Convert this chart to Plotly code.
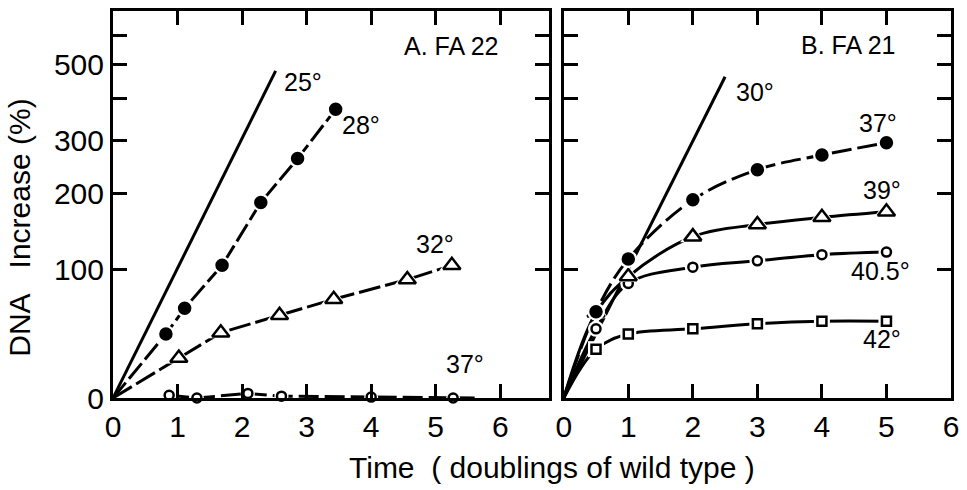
import numpy as np
import plotly.graph_objects as go
from plotly.subplots import make_subplots

# ---------------- data ----------------
# Panel A (FA 22): time in doublings of wild type, DNA increase in %
a25_x = [0, 2.52]
a25_y = [0, 480]
a28_x = [0, 0.82, 1.11, 1.69, 2.29, 2.86, 3.45]
a28_y = [0, 41, 62, 104, 186, 262, 372]
a32_x = [0, 1.02, 1.67, 2.58, 3.42, 4.56, 5.25]
a32_y = [0, 24, 42, 56, 70, 89, 104]
a37_x = [0.87, 1.30, 2.09, 2.61, 4.00, 5.27]
a37_y = [1.5, 0, 2.5, 1, 0.5, 0]

# Panel B (FA 21)
b30_x = [0, 2.5]
b30_y = [0, 462]
b_x = [0, 0.5, 1, 2, 3, 4, 5]
b37_y = [0, 59, 111, 190, 241, 269, 294]
b39_y = [0, 58, 92, 138, 154, 164, 172]
b405_y = [0, 45, 85, 102, 109, 116, 119]
b42_y = [0, 30, 41, 45, 49, 51, 51]

y_tick_vals = [0, 100, 200, 300, 400, 500, 600]
y_tick_text = ["0", "100", "200", "300", "", "500", ""]
x_tick_vals = [0, 1, 2, 3, 4, 5, 6]
x_tick_text = ["0", "1", "2", "3", "4", "5", "6"]


def T(v):
    """DNA increase (%) -> log2 of relative DNA amount (the chart's y scale)."""
    return np.log2(1 + np.asarray(v, dtype=float) / 100.0)


FONT = "Liberation Sans, Arial, sans-serif"
BLACK = "black"

fig = make_subplots(rows=1, cols=2, horizontal_spacing=0.018,
                    column_widths=[6.75, 6.0])


def add_line(x, y, col, dash="solid", shape="linear"):
    fig.add_trace(go.Scatter(x=x, y=T(y), mode="lines",
                             line=dict(color=BLACK, width=3, dash=dash, shape=shape),
                             hoverinfo="skip", showlegend=False, cliponaxis=False),
                  row=1, col=col)


def add_markers(x, y, col, symbol, size, filled, halo=7):
    # white halo to break the line around each marker
    fig.add_trace(go.Scatter(x=x, y=T(y), mode="markers",
                             marker=dict(symbol=symbol, size=size + halo, color="white",
                                         line=dict(width=0)),
                             hoverinfo="skip", showlegend=False, cliponaxis=False),
                  row=1, col=col)
    fig.add_trace(go.Scatter(x=x, y=T(y), mode="markers",
                             marker=dict(symbol=symbol, size=size,
                                         color=BLACK if filled else "white",
                                         line=dict(color=BLACK, width=2.5)),
                             showlegend=False, cliponaxis=False),
                  row=1, col=col)


# Panel A
add_line(a25_x, a25_y, 1)
add_line(a28_x, a28_y, 1, dash="20px,5px")
add_markers(a28_x[1:], a28_y[1:], 1, "circle", 11, True)
add_line(a32_x, a32_y, 1, dash="22px,5px")
add_markers(a32_x[1:], a32_y[1:], 1, "triangle-up", 15, False)
add_line([a37_x[0]] + a37_x + [5.65], [a37_y[0]] + a37_y + [0], 1, dash="20px,6px")
add_markers(a37_x, a37_y, 1, "circle", 9, False, halo=5)

# Panel B
add_line(b30_x, b30_y, 2)
add_line(b_x, b37_y, 2, dash="20px,6px", shape="spline")
add_line(b_x, b39_y, 2, shape="spline")
add_line(b_x, b405_y, 2, shape="spline")
add_line(b_x, b42_y, 2, shape="spline")
add_markers(b_x[1:], b42_y[1:], 2, "square", 9, False)
add_markers(b_x[1:], b405_y[1:], 2, "circle", 9, False)
add_markers(b_x[1:], b39_y[1:], 2, "triangle-up", 15, False)
add_markers(b_x[1:], b37_y[1:], 2, "circle", 11, True)

axis_common = dict(showline=True, linewidth=3, linecolor=BLACK, mirror="ticks",
                   ticks="inside", ticklen=14, tickwidth=2.5, tickcolor=BLACK,
                   showgrid=False, zeroline=False,
                   tickfont=dict(family=FONT, size=30, color=BLACK))

fig.update_xaxes(range=[0, 6.75], tickvals=x_tick_vals, ticktext=x_tick_text,
                 row=1, col=1, **axis_common)
fig.update_xaxes(range=[0, 6.0], tickvals=x_tick_vals, ticktext=x_tick_text,
                 row=1, col=2, **axis_common)
fig.update_yaxes(range=[0, 3.0], tickvals=list(T(y_tick_vals)), ticktext=y_tick_text,
                 row=1, col=1, **axis_common)
fig.update_yaxes(range=[0, 3.0], tickvals=list(T(y_tick_vals)), ticktext=y_tick_text,
                 showticklabels=False, row=1, col=2, **axis_common)

ann_font = dict(family=FONT, size=25, color=BLACK)
labels_a = [("25°", 2.94, 2.45), ("28°", 3.85, 2.12), ("32°", 4.99, 1.19),
            ("37°", 5.45, 0.26), ("A. FA 22", 5.25, 2.73)]
labels_b = [("30°", 2.96, 2.37), ("37°", 4.87, 2.13), ("39°", 4.93, 1.61),
            ("40.5°", 4.91, 0.985), ("42°", 4.93, 0.46), ("B. FA 21", 4.41, 2.74)]
for txt, x, y in labels_a:
    fig.add_annotation(text=txt, x=x, y=y, xref="x", yref="y", showarrow=False,
                       font=ann_font)
for txt, x, y in labels_b:
    fig.add_annotation(text=txt, x=x, y=y, xref="x2", yref="y2", showarrow=False,
                       font=ann_font)

fig.add_annotation(text="Time  ( doublings of wild type )", xref="paper", yref="paper",
                   x=0.524, y=-0.18, showarrow=False, yanchor="middle",
                   font=dict(family=FONT, size=30, color=BLACK))
fig.add_annotation(text="DNA\u00a0\u00a0 Increase (%)", xref="paper", yref="paper",
                   x=-0.133, y=0.44, textangle=-90, showarrow=False,
                   font=dict(family=FONT, size=30, color=BLACK))

fig.update_layout(width=967, height=490, margin=dict(l=113, r=15, t=8, b=92),
                  paper_bgcolor="white", plot_bgcolor="white", showlegend=False)

fig.write_html("out.html")
